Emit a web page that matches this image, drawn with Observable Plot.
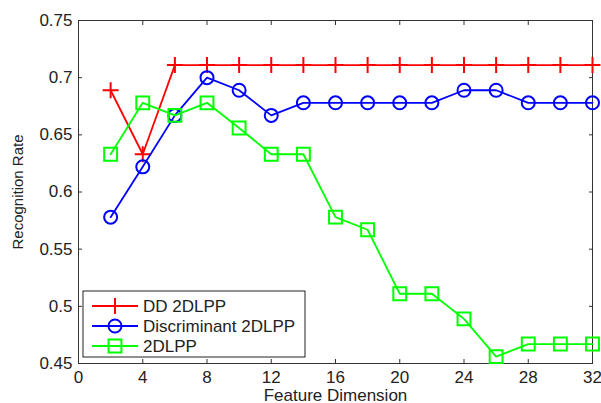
<!DOCTYPE html>
<html>
<head>
<meta charset="utf-8">
<script src="https://cdn.jsdelivr.net/npm/d3@7"></script>
<script src="https://cdn.jsdelivr.net/npm/@observablehq/plot@0.6"></script>
<style>
  html, body { margin: 0; padding: 0; background: #fff; }
  #chart { width: 601px; height: 403px; }
</style>
</head>
<body>
<div id="chart"></div>
<script>
const featureDims = [2, 4, 6, 8, 10, 12, 14, 16, 18, 20, 22, 24, 26, 28, 30, 32];
const dd2dlpp = [0.689, 0.633, 0.711, 0.711, 0.711, 0.711, 0.711, 0.711, 0.711, 0.711, 0.711, 0.711, 0.711, 0.711, 0.711, 0.711];
const discriminant2dlpp = [0.578, 0.622, 0.667, 0.700, 0.689, 0.667, 0.678, 0.678, 0.678, 0.678, 0.678, 0.689, 0.689, 0.678, 0.678, 0.678];
const plain2dlpp = [0.633, 0.678, 0.667, 0.678, 0.656, 0.633, 0.633, 0.578, 0.567, 0.511, 0.511, 0.489, 0.456, 0.467, 0.467, 0.467];

const seriesNames = ["DD 2DLPP", "Discriminant 2DLPP", "2DLPP"];
const seriesColors = ["#ff0000", "#0000ff", "#00ff00"];
const seriesSymbols = ["plus", "circle", "square2"];
const seriesValues = [dd2dlpp, discriminant2dlpp, plain2dlpp];

const xTicks = [0, 4, 8, 12, 16, 20, 24, 28, 32];
const yTicks = [0.45, 0.5, 0.55, 0.6, 0.65, 0.7, 0.75];

const rows = [];
seriesNames.forEach((name, i) => {
  featureDims.forEach((d, j) => rows.push({series: name, dim: d, rate: seriesValues[i][j]}));
});

const symR = {"plus": 5.2, "circle": 6.5, "square2": 8.2};

const marks = [
  Plot.frame({stroke: "#333", strokeWidth: 1}),
  Plot.axisX({ticks: xTicks, tickSize: -4, tickPadding: 11, tickFormat: d => String(d), fontSize: 17,
    label: "Feature Dimension", labelAnchor: "center", labelArrow: "none", labelOffset: 37, stroke: "#333", fill: "#222"}),
  Plot.axisX({anchor: "top", ticks: xTicks, tickSize: -4, tickFormat: () => "", label: null, stroke: "#333"}),
  Plot.axisY({ticks: yTicks, tickSize: -4, tickPadding: 10, tickFormat: d => String(+d.toFixed(2)), fontSize: 17,
    label: null, stroke: "#333", fill: "#222"}),
  Plot.axisY({ticks: [], tickSize: 0, label: "Recognition Rate", labelAnchor: "center", labelArrow: "none",
    labelOffset: 66, fontSize: 15, fill: "#222"}),
  Plot.axisY({anchor: "right", ticks: yTicks, tickSize: -4, tickFormat: () => "", label: null, stroke: "#333"})
];
seriesNames.forEach((name, i) => {
  const data = rows.filter(r => r.series === name);
  marks.push(Plot.line(data, {x: "dim", y: "rate", stroke: seriesColors[i], strokeWidth: 1.8}));
  marks.push(Plot.dot(data, {x: "dim", y: "rate", stroke: seriesColors[i], fill: "none", strokeWidth: 2,
    symbol: () => seriesSymbols[i], r: symR[seriesSymbols[i]]}));
});

const chart = Plot.plot({
  width: 601,
  height: 403,
  marginLeft: 78,
  marginRight: 9,
  marginTop: 20,
  marginBottom: 40,
  style: {fontFamily: "'Liberation Sans', Arial, sans-serif", fontSize: "17px", background: "#fff", color: "#222"},
  x: {domain: [0, 32]},
  y: {domain: [0.45, 0.75]},
  symbol: {domain: seriesSymbols, range: seriesSymbols},
  marks
});
document.getElementById("chart").appendChild(chart);

// Legend box inside lower-left of the frame
const svg = d3.select(chart);
const lg = svg.append("g").attr("transform", "translate(83,291)");
lg.append("rect").attr("x", 0).attr("y", 0).attr("width", 222).attr("height", 66)
  .attr("fill", "#fff").attr("stroke", "#222").attr("stroke-width", 1);
const symMap = {"plus": d3.symbolPlus, "circle": d3.symbolCircle, "square2": d3.symbolSquare2};
seriesNames.forEach((name, i) => {
  const cy = 15 + i * 20;
  lg.append("line").attr("x1", 9).attr("x2", 55).attr("y1", cy).attr("y2", cy)
    .attr("stroke", seriesColors[i]).attr("stroke-width", 1.8);
  const r = symR[seriesSymbols[i]];
  lg.append("path").attr("transform", `translate(32,${cy})`)
    .attr("d", d3.symbol(symMap[seriesSymbols[i]], r * r * Math.PI)())
    .attr("fill", "none").attr("stroke", seriesColors[i]).attr("stroke-width", 2);
  lg.append("text").attr("x", 60).attr("y", cy).attr("dy", "0.35em")
    .attr("text-anchor", "start").attr("fill", "#222").attr("font-size", 17).text(name);
});
</script>
</body>
</html>
